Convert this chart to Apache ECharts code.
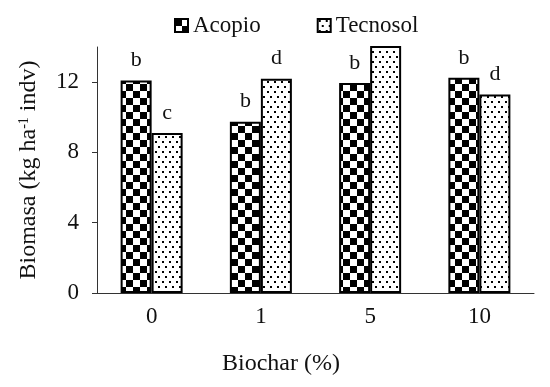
<!DOCTYPE html>
<html lang="en">
<head>
    <meta charset="UTF-8">
    <title>Biomasa</title>
    <style>
        html, body { margin: 0; padding: 0; background: #fff; }
    </style>
</head>
<body>
    <div id="box" style="height: 387px;width: 550px;"></div>
<script src="https://cdn.jsdelivr.net/npm/echarts@6/dist/echarts.min.js"></script>
<script>
    var categories = ["0", "1", "5", "10"];
    var acopio = [12.1, 9.75, 11.95, 12.25];
    var tecnosol = [9.1, 12.2, 14.5, 11.3];
    var acopioLetters = ["b", "b", "b", "b"];
    var tecnosolLetters = ["c", "d", "", "d"];
    var yTicks = [0, 4, 8, 12];

    var font = "Liberation Serif";

    // checker pattern for Acopio
    function checker() {
        var c = document.createElement("canvas");
        c.width = 14; c.height = 14;
        var ctx = c.getContext("2d");
        ctx.fillStyle = "#fff";
        ctx.fillRect(0, 0, 14, 14);
        ctx.fillStyle = "#000";
        ctx.fillRect(0, 0, 7, 7);
        ctx.fillRect(7, 7, 7, 7);
        return c;
    }
    // dotted pattern for Tecnosol
    function dots() {
        var c = document.createElement("canvas");
        c.width = 7; c.height = 10;
        var ctx = c.getContext("2d");
        ctx.fillStyle = "#fff";
        ctx.fillRect(0, 0, 7, 10);
        ctx.fillStyle = "#000";
        ctx.fillRect(1, 1, 2, 2);
        ctx.fillRect(4, 6, 2, 2);
        return c;
    }

    function withLetters(values, letters) {
        return values.map(function (v, i) {
            return {
                value: v,
                label: { show: letters[i] !== "", formatter: letters[i] }
            };
        });
    }

    var box = echarts.init(document.getElementById("box"));
    var option = {
        animation: false,
        textStyle: { fontFamily: font },
        legend: {
            left: 169,
            top: 9,
            icon: "rect",
            itemWidth: 13,
            itemHeight: 13,
            itemGap: 56,
            textStyle: { fontFamily: font, fontSize: 23, color: "#111" },
            data: ["Acopio", "Tecnosol"]
        },
        grid: {
            left: 97,
            right: 16,
            top: 47,
            bottom: 94
        },
        title: {
            text: "Biochar (%)",
            left: 217,
            top: 347,
            textStyle: { fontFamily: font, fontSize: 24, fontWeight: "normal", color: "#111" }
        },
        xAxis: {
            type: "category",
            data: categories,
            axisLine: { lineStyle: { color: "#333", width: 1 } },
            axisTick: { length: 5, lineStyle: { color: "#333" } },
            axisLabel: { fontFamily: font, fontSize: 23, color: "#111", margin: 12 }
        },
        yAxis: {
            type: "value",
            min: 0,
            max: 14,
            name: "Biomasa (kg ha{sup|-1} indv)",
            nameLocation: "middle",
            nameGap: 56,
            nameTextStyle: {
                fontFamily: font,
                fontSize: 24,
                color: "#111",
                rich: {
                    sup: { fontFamily: font, fontSize: 14, verticalAlign: "top", padding: [0, 0, 10, 0], color: "#111" }
                }
            },
            splitLine: { show: false },
            axisLine: { show: true, lineStyle: { color: "#333", width: 1 } },
            axisTick: { show: true, length: 5, lineStyle: { color: "#333" }, customValues: yTicks },
            axisLabel: { fontFamily: font, fontSize: 23, color: "#111", margin: 18, customValues: yTicks }
        },
        series: [
            {
                name: "Acopio",
                type: "bar",
                barWidth: 31,
                barGap: "0%",
                itemStyle: {
                    color: { image: checker(), repeat: "repeat" },
                    borderColor: "#000",
                    borderWidth: 2
                },
                label: {
                    position: "top",
                    distance: 9,
                    fontFamily: font,
                    fontSize: 22,
                    color: "#111"
                },
                data: withLetters(acopio, acopioLetters)
            },
            {
                name: "Tecnosol",
                type: "bar",
                barWidth: 31,
                barGap: "0%",
                itemStyle: {
                    color: { image: dots(), repeat: "repeat" },
                    borderColor: "#000",
                    borderWidth: 2
                },
                label: {
                    position: "top",
                    distance: 9,
                    fontFamily: font,
                    fontSize: 22,
                    color: "#111"
                },
                data: withLetters(tecnosol, tecnosolLetters)
            }
        ]
    };
    box.setOption(option);
</script>
</body>
</html>
